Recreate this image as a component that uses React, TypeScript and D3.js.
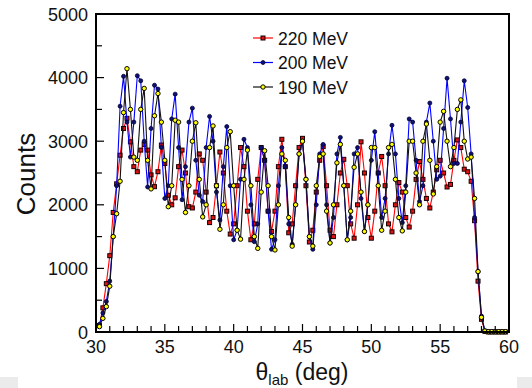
import React from 'react'
import * as d3 from 'd3'

// scattering angle bins (deg)
const angles = [
  30.25, 30.5, 30.75, 31.0, 31.25, 31.5, 31.75, 32.0, 32.25, 32.5, 32.75, 33.0,
  33.25, 33.5, 33.75, 34.0, 34.25, 34.5, 34.75, 35.0, 35.25, 35.5, 35.75, 36.0,
  36.25, 36.5, 36.75, 37.0, 37.25, 37.5, 37.75, 38.0, 38.25, 38.5, 38.75, 39.0,
  39.25, 39.5, 39.75, 40.0, 40.25, 40.5, 40.75, 41.0, 41.25, 41.5, 41.75, 42.0,
  42.25, 42.5, 42.75, 43.0, 43.25, 43.5, 43.75, 44.0, 44.25, 44.5, 44.75, 45.0,
  45.25, 45.5, 45.75, 46.0, 46.25, 46.5, 46.75, 47.0, 47.25, 47.5, 47.75, 48.0,
  48.25, 48.5, 48.75, 49.0, 49.25, 49.5, 49.75, 50.0, 50.25, 50.5, 50.75, 51.0,
  51.25, 51.5, 51.75, 52.0, 52.25, 52.5, 52.75, 53.0, 53.25, 53.5, 53.75, 54.0,
  54.25, 54.5, 54.75, 55.0, 55.25, 55.5, 55.75, 56.0, 56.25, 56.5, 56.75, 57.0,
  57.25, 57.5, 57.75, 58.0, 58.25, 58.5, 58.75, 59.0, 59.25, 59.5, 59.75,
]

const counts220 = [
  100, 380, 760, 1200, 1880, 2330, 2780, 3200, 3360, 2990, 2600, 2520,
  2860, 2950, 2860, 2470, 2285, 2520, 2940, 2650, 2150, 2000, 2110, 2600,
  2860, 2500, 1970, 1950, 2200, 2800, 2700, 2200, 1720, 1800, 2300, 2830,
  2500, 1900, 1540, 1700, 2300, 2900, 2600, 1900, 1450, 1700, 2400, 2900,
  2700, 1900, 1580, 1900, 2600, 3030, 2600, 1560, 1700, 2300, 2900, 3045,
  2300, 1415, 1600, 2200, 2700, 2915, 2300, 1600, 1500, 2000, 2500, 2715,
  2300, 1700, 1475, 2000, 2990, 2500, 1800, 1475, 1900, 2500, 2760, 2300,
  1700, 1575, 2000, 2350, 2200, 1800, 1650, 1900, 2400, 2680, 2400, 2100,
  1950, 2200, 2550, 2700, 2500, 2280, 2320, 2700, 3020, 2900, 2560, 2520,
  2370, 1750, 800, 200, 10, 0, 0, 0, 0, 0, 0,
]

const counts200 = [
  120, 300, 480, 800, 1500, 2300, 3550, 4020, 3300, 2750, 3300, 4030,
  3950, 3000, 2280, 3200, 3880, 3820, 2900, 2100, 2300, 3350, 3740, 2900,
  2080, 2600, 3300, 3520, 2700, 2150, 2050, 2900, 3390, 3000, 2200, 1760,
  2600, 3230, 2300, 1450, 1600, 2400, 3030, 2900, 2000, 1420, 1700, 2900,
  2700, 1900, 1300, 1450, 2300, 2900, 2600, 1700, 1380, 2000, 2800, 3000,
  2400, 1500, 1300, 2000, 2800, 2950, 2000, 1400, 1800, 2800, 3060, 2300,
  1450, 1800, 2800, 2900, 2100, 1580, 2000, 2700, 3150, 2500, 1800, 2100,
  2800, 3250, 2800, 2100, 1720, 2300, 3350, 3300, 2700, 2050, 2300, 3300,
  3600, 3000, 2400, 2450, 3200, 3990, 3350, 2650, 2650, 3300, 3950, 3530,
  2800, 1800, 950, 250, 20, 5, 5, 5, 5, 5, 5,
]

const counts190 = [
  85, 215, 400, 720, 1500, 1860, 2370, 3450, 4140, 3500, 2750, 2700,
  3500, 3830, 2700, 2250, 3400, 3750, 3300, 2700, 1970, 2300, 3330, 3300,
  2400, 1880, 2300, 3000, 3290, 2400, 1810, 2000, 2900, 3240, 2300, 1615,
  2000, 2900, 3150, 2300, 1600, 1460, 2400, 2860, 2300, 1500, 1315, 2200,
  2850, 2300, 1500, 1290, 2000, 2800, 2700, 1800, 1350, 2000, 2800, 3000,
  2400, 1500, 1350, 2300, 2760, 2800, 1900, 1400, 2000, 2660, 2950, 2300,
  1450, 1900, 2590, 2800, 2200, 1580, 2000, 2900, 2900, 2300, 1600, 1900,
  2900, 2950, 2400, 1800, 1590, 2200, 3000, 3000, 2500, 2000, 3000, 3270,
  2700, 2170, 2600, 3300, 3470, 3000, 2600, 2900, 3500, 3650, 3000, 2720,
  2750, 2100, 950, 230, 15, 5, 5, 5, 5, 5, 5,
]

const seriesNames = ['220 MeV', '200 MeV', '190 MeV']
const xTicks = [30, 35, 40, 45, 50, 55, 60]
const yTicks = [0, 1000, 2000, 3000, 4000, 5000]

const FONT = '"Liberation Sans", Arial, Helvetica, sans-serif'

export default function App() {
  const W = 532, H = 388
  const left = 96, right = 509, top = 14, bottom = 332
  const x = d3.scaleLinear().domain([30, 60]).range([left, right])
  const y = d3.scaleLinear().domain([0, 5000]).range([bottom, top])

  const line = d3.line<number>()
    .x((_, i) => x(angles[i]))
    .y(d => y(d))

  const series = [
    { name: seriesNames[0], values: counts220, color: '#ff0000', marker: 'square' },
    { name: seriesNames[1], values: counts200, color: '#0000ff', marker: 'dot' },
    { name: seriesNames[2], values: counts190, color: '#111111', marker: 'ring' },
  ]

  const drawMarker = (kind: string, cx: number, cy: number, key: any) => {
    if (kind === 'square')
      return <rect key={key} x={cx - 2} y={cy - 2} width={4} height={4}
        fill="#e01010" stroke="#1a0000" strokeWidth={1} />
    if (kind === 'dot')
      return <circle key={key} cx={cx} cy={cy} r={2} fill="#10107a" stroke="#000030" strokeWidth={0.8} />
    return <circle key={key} cx={cx} cy={cy} r={2.2} fill="#ffff00" stroke="#000" strokeWidth={1} />
  }

  const minorX = d3.range(30, 61, 1)
  const minorY = d3.range(0, 5001, 500)

  return (
    <svg width={W} height={H} style={{ position: 'absolute', left: 0, top: 0, background: '#fff' }}
      fontFamily={FONT}>
      <rect width={W} height={H} fill="#fff" />

      {series.map(s => (
        <g key={s.name}>
          <path d={line(s.values) || ''} fill="none" stroke={s.color} strokeWidth={1.1} />
          {s.values.map((v, i) => drawMarker(s.marker, x(angles[i]), y(v), i))}
        </g>
      ))}

      {/* ticks */}
      {minorX.map(t => (
        <line key={'xt' + t} x1={x(t)} x2={x(t)} y1={bottom} y2={bottom - (t % 5 === 0 ? 8 : 6)}
          stroke="#000" strokeWidth={1.2} />
      ))}
      {minorY.map(t => (
        <line key={'yt' + t} x1={left} x2={left + (t % 1000 === 0 ? 8 : 6)} y1={y(t)} y2={y(t)}
          stroke="#000" strokeWidth={1.2} />
      ))}

      <rect x={left} y={top} width={right - left} height={bottom - top} fill="none" stroke="#000" strokeWidth={2} />

      {xTicks.map(t => (
        <text key={'xl' + t} x={x(t)} y={353} textAnchor="middle" fontSize={18} fill="#111">{t}</text>
      ))}
      {yTicks.map(t => (
        <text key={'yl' + t} x={88} y={y(t) + 6.5} textAnchor="end" fontSize={18} fill="#111">{t}</text>
      ))}

      <text transform={`translate(35,174) rotate(-90)`} textAnchor="middle" fontSize={26} fill="#111">Counts</text>
      <text x={302} y={380} textAnchor="middle" fontSize={23} fill="#111">
        θ<tspan fontSize={15} dy={5}>lab</tspan><tspan dy={-5}> (deg)</tspan>
      </text>

      {/* legend */}
      {series.map((s, i) => {
        const ly = 38 + i * 24.5
        return (
          <g key={'lg' + s.name}>
            <line x1={253} x2={273} y1={ly} y2={ly} stroke={s.color} strokeWidth={1.2} />
            {drawMarker(s.marker, 263, ly, 'm')}
            <text x={278} y={ly + 6.5} fontSize={17.5} fill="#111">{s.name}</text>
          </g>
        )
      })}

      <rect x={0} y={377} width={18} height={11} fill="#ebebeb" />
      <rect x={517} y={377} width={15} height={11} fill="#ebebeb" />
    </svg>
  )
}
